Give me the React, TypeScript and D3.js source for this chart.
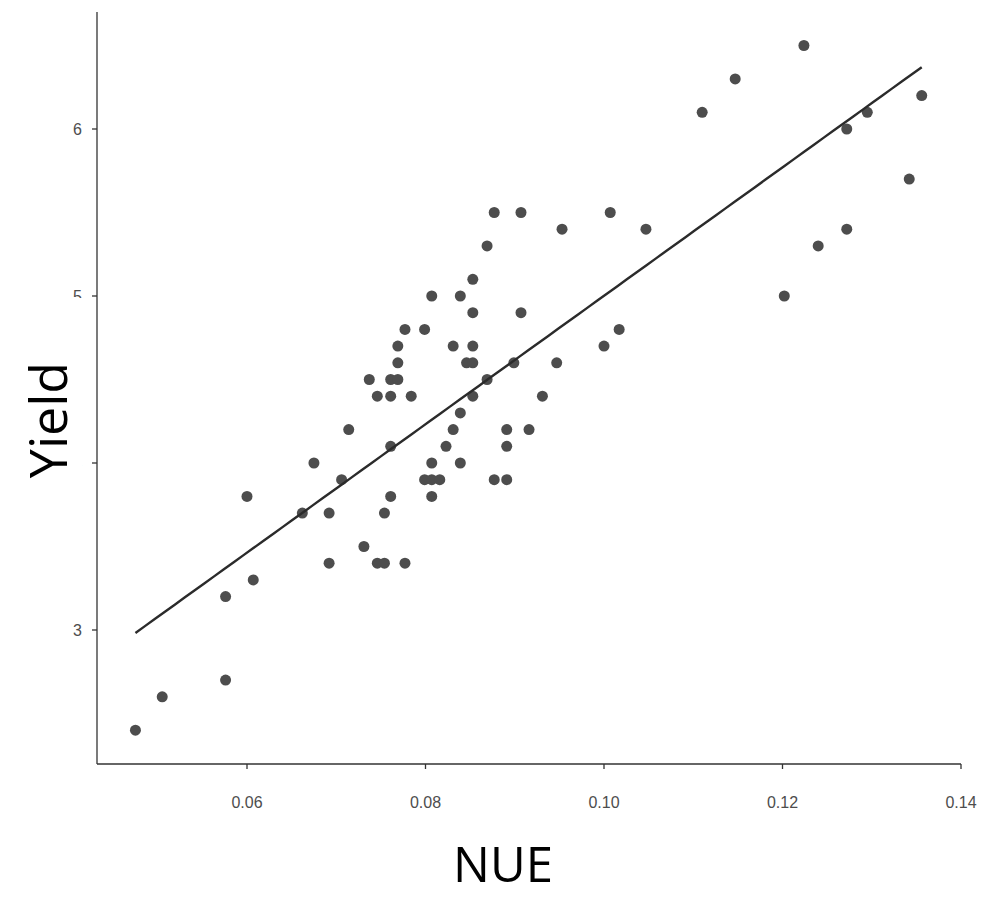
import React from "react";
import * as d3 from "d3";

// NUE (x) and Yield (y)
const nue = [
  0.0475, 0.0505, 0.0576, 0.0576, 0.0607, 0.06, 0.0662, 0.0675, 0.0692, 0.0692,
  0.0706, 0.0714, 0.0731, 0.0737, 0.0746, 0.0746, 0.0754, 0.0754, 0.0761, 0.0761,
  0.0761, 0.0761, 0.0769, 0.0769, 0.0769, 0.0777, 0.0777, 0.0784, 0.0799, 0.0799,
  0.0807, 0.0807, 0.0807, 0.0807, 0.0816, 0.0823, 0.0831, 0.0831, 0.0839, 0.0839,
  0.0839, 0.0846, 0.0853, 0.0853, 0.0853, 0.0853, 0.0853, 0.0869, 0.0869, 0.0877,
  0.0877, 0.0891, 0.0891, 0.0891, 0.0899, 0.0907, 0.0907, 0.0916, 0.0931, 0.0947,
  0.0953, 0.1, 0.1007, 0.1017, 0.1047, 0.111, 0.1147, 0.1202, 0.1224, 0.124,
  0.1272, 0.1272, 0.1295, 0.1342, 0.1356,
];
const yieldVals = [
  2.4, 2.6, 2.7, 3.2, 3.3, 3.8, 3.7, 4.0, 3.7, 3.4,
  3.9, 4.2, 3.5, 4.5, 4.4, 3.4, 3.4, 3.7, 4.4, 4.1,
  3.8, 4.5, 4.5, 4.6, 4.7, 4.8, 3.4, 4.4, 4.8, 3.9,
  3.9, 4.0, 3.8, 5.0, 3.9, 4.1, 4.2, 4.7, 4.3, 4.0,
  5.0, 4.6, 4.6, 4.4, 4.7, 4.9, 5.1, 4.5, 5.3, 3.9,
  5.5, 3.9, 4.1, 4.2, 4.6, 5.5, 4.9, 4.2, 4.4, 4.6,
  5.4, 4.7, 5.5, 4.8, 5.4, 6.1, 6.3, 5.0, 6.5, 5.3,
  6.0, 5.4, 6.1, 5.7, 6.2,
];
const xTicks = [0.06, 0.08, 0.1, 0.12, 0.14];
const yTicks = [3, 4, 5, 6];

export default function App() {
  const width = 984;
  const height = 898;
  const left = 97;
  const bottom = 764;

  const x = d3.scaleLinear().domain([0.06, 0.14]).range([247, 961]);
  const y = d3.scaleLinear().domain([3, 6]).range([630, 129]);

  const pts = nue.map((v, i) => ({ x: v, y: yieldVals[i] }));

  // least squares fit
  const mx = d3.mean(nue) as number;
  const my = d3.mean(yieldVals) as number;
  let sxy = 0;
  let sxx = 0;
  pts.forEach((p) => {
    sxy += (p.x - mx) * (p.y - my);
    sxx += (p.x - mx) * (p.x - mx);
  });
  const slope = sxy / sxx;
  const icpt = my - slope * mx;
  const [x0, x1] = d3.extent(nue) as [number, number];
  const fit = d3.range(0, 81).map((i) => {
    const xv = x0 + ((x1 - x0) * i) / 80;
    return [xv, icpt + slope * xv] as [number, number];
  });
  const line = d3.line<[number, number]>().x((d) => x(d[0])).y((d) => y(d[1]));

  const tickFont = "'Liberation Sans', Arial, sans-serif";
  const titleFont = "'Open Sans', 'Noto Sans', sans-serif";

  return (
    <svg
      width={width}
      height={height}
      style={{ position: "absolute", left: 0, top: 0, background: "#fff" }}
    >
      <rect width={width} height={height} fill="#fff" />
      {/* axes */}
      <line x1={left} x2={left} y1={12} y2={bottom} stroke="#333" strokeWidth={1.3} />
      <line x1={left} x2={961} y1={bottom} y2={bottom} stroke="#333" strokeWidth={1.3} />
      {xTicks.map((t) => (
        <g key={"x" + t}>
          <line x1={x(t)} x2={x(t)} y1={bottom} y2={bottom + 5} stroke="#333" strokeWidth={1.3} />
          <text
            x={x(t)}
            y={808}
            textAnchor="middle"
            fontFamily={tickFont}
            fontSize={16}
            fill="#4d4d4d"
          >
            {d3.format(".2f")(t)}
          </text>
        </g>
      ))}
      {yTicks.map((t) => (
        <g key={"y" + t}>
          <line x1={left - 5} x2={left} y1={y(t)} y2={y(t)} stroke="#333" strokeWidth={1.3} />
          <text
            x={left - 15}
            y={y(t) + 6}
            textAnchor="end"
            fontFamily={tickFont}
            fontSize={16}
            fill="#4d4d4d"
          >
            {t}
          </text>
        </g>
      ))}

      {/* points */}
      {pts.map((p, i) => (
        <circle key={i} cx={x(p.x)} cy={y(p.y)} r={5.5} fill="#4d4d4d" />
      ))}

      {/* regression line */}
      <path d={line(fit) || ""} fill="none" stroke="#2b2b2b" strokeWidth={2.4} />

      {/* axis titles */}
      <rect x={15} y={298} width={67} height={178} fill="#fff" />
      <text
        transform="translate(67,420) rotate(-90)"
        textAnchor="middle"
        fontFamily={titleFont}
        fontSize={52}
        fill="#000"
      >
        Yield
      </text>
      <text
        x={503}
        y={882}
        textAnchor="middle"
        fontFamily={titleFont}
        fontSize={49}
        fill="#000"
      >
        NUE
      </text>
    </svg>
  );
}
